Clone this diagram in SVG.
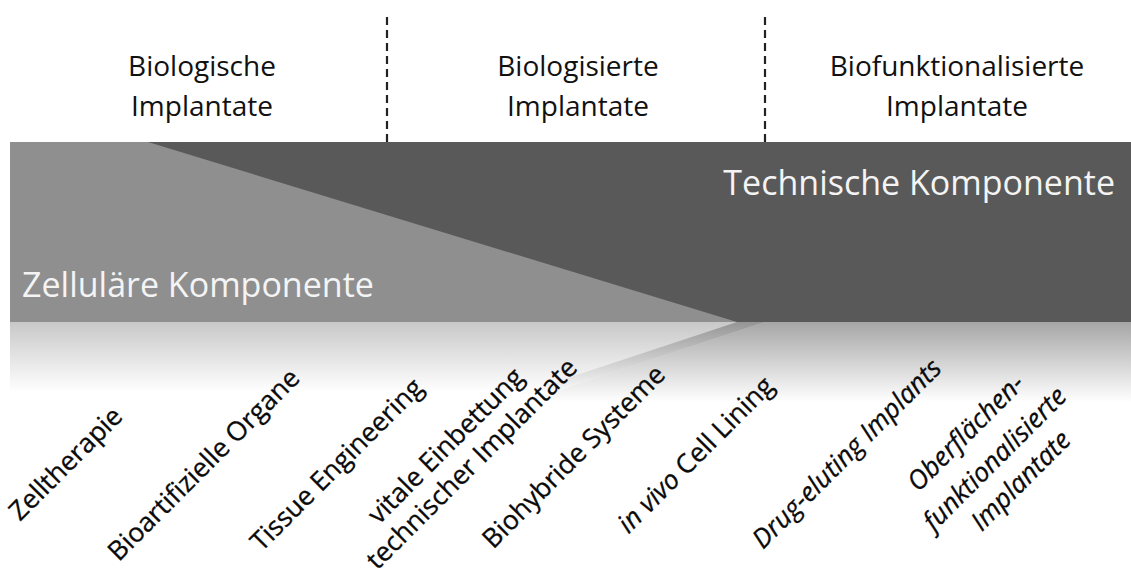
<svg xmlns="http://www.w3.org/2000/svg" width="1131" height="572" viewBox="0 0 1131 572">
<style>
.hdr{font-family:"Open Sans","Noto Sans",sans-serif;font-size:28px;fill:#111;text-anchor:middle}
.big{font-family:"Open Sans","Noto Sans",sans-serif;font-size:34px;fill:#f4f4f4}
.lbl{font-family:"Open Sans","Noto Sans",sans-serif;font-size:26.5px;fill:#0a0a0a;text-anchor:middle;stroke:#0a0a0a;stroke-width:0.3px}
.it{font-style:italic}
.dash{stroke:#222;stroke-width:2.2;stroke-dasharray:8 5;fill:none}
</style>
<defs>
<linearGradient id="gLight" gradientUnits="userSpaceOnUse" x1="0" y1="322" x2="0" y2="392">
<stop offset="0" stop-color="#c8c8c8"/><stop offset="1" stop-color="#ffffff"/>
</linearGradient>
<linearGradient id="gDark" gradientUnits="userSpaceOnUse" x1="0" y1="322" x2="0" y2="402">
<stop offset="0" stop-color="#a6a6a6"/><stop offset="1" stop-color="#ffffff"/>
</linearGradient>
<linearGradient id="gStreak" gradientUnits="userSpaceOnUse" x1="0" y1="322" x2="0" y2="395">
<stop offset="0" stop-color="#959595"/><stop offset="1" stop-color="#ffffff"/>
</linearGradient>
</defs>
<rect width="1131" height="572" fill="#ffffff"/>
<g id="band">
<rect x="10" y="142" width="1121" height="180" fill="#8f8f8f"/>
<polygon points="148,142 1131,142 1131,322 737,322" fill="#595959"/>
<rect x="10" y="322" width="1121" height="72" fill="url(#gLight)"/>
<polygon points="765,322 1131,322 1131,402 523,402" fill="url(#gDark)"/>
<polygon points="737,322 765,322 523,402 495,402" fill="url(#gStreak)"/>
</g>
<g id="connectors">
<line class="dash" x1="387" y1="17" x2="387" y2="142"/>
<line class="dash" x1="765" y1="17" x2="765" y2="142"/>
</g>
<g id="header-biologische">
<text class="hdr" x="202" y="76">Biologische</text>
<text class="hdr" x="202" y="116">Implantate</text>
</g>
<g id="header-biologisierte">
<text class="hdr" x="578" y="76">Biologisierte</text>
<text class="hdr" x="578" y="116">Implantate</text>
</g>
<g id="header-biofunktionalisierte">
<text class="hdr" x="957" y="76">Biofunktionalisierte</text>
<text class="hdr" x="957" y="116">Implantate</text>
</g>
<g id="technische">
<text class="big" x="1115" y="195" text-anchor="end">Technische Komponente</text>
</g>
<g id="zellulaere">
<text class="big" x="22" y="297">Zelluläre Komponente</text>
</g>
<g id="zelltherapie"><text class="lbl" transform="translate(72,470) rotate(-45)">Zelltherapie</text></g>
<g id="bioartifizielle"><text class="lbl" transform="translate(210,471) rotate(-45)">Bioartifizielle Organe</text></g>
<g id="tissue"><text class="lbl" transform="translate(343,471) rotate(-45)">Tissue Engineering</text></g>
<g id="vitale">
<text class="lbl" transform="translate(452,452) rotate(-45)">vitale Einbettung</text>
<text class="lbl" transform="translate(478,470) rotate(-45)">technischer Implantate</text>
</g>
<g id="biohybride"><text class="lbl" transform="translate(580,463) rotate(-45)">Biohybride Systeme</text></g>
<g id="invivo"><text class="lbl" transform="translate(702,461) rotate(-45)"><tspan class="it">in vivo</tspan> Cell Lining</text></g>
<g id="drug"><text class="lbl it" transform="translate(853,460) rotate(-45)">Drug-eluting Implants</text></g>
<g id="oberflaechen">
<text class="lbl it" transform="translate(972,439) rotate(-45)">Oberflächen-</text>
<text class="lbl it" transform="translate(1001,465) rotate(-45)">funktionalisierte</text>
<text class="lbl it" transform="translate(1027,487) rotate(-45)">Implantate</text>
</g>
</svg>
